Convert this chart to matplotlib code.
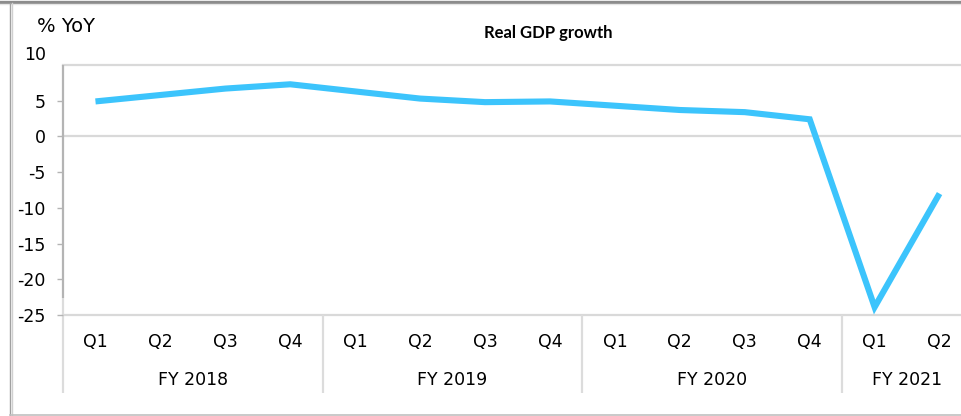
import matplotlib
matplotlib.use("Agg")
import matplotlib.pyplot as plt
from matplotlib.lines import Line2D
from matplotlib.transforms import ScaledTranslation

plt.rcParams["font.family"] = ["DejaVu Sans"]

# ---- data ----
fiscal_years = ["FY 2018", "FY 2019", "FY 2020", "FY 2021"]
quarters_per_year = [4, 4, 4, 2]
quarter_labels = ["Q1", "Q2", "Q3", "Q4", "Q1", "Q2", "Q3", "Q4",
                  "Q1", "Q2", "Q3", "Q4", "Q1", "Q2"]
gdp_growth = [4.9, 5.8, 6.7, 7.3, 6.3, 5.3, 4.8, 4.9,
              4.3, 3.7, 3.4, 2.4, -23.9, -8.0]
y_ticks = [10, 5, 0, -5, -10, -15, -20, -25]

W, H = 962, 416
fig = plt.figure(figsize=(W / 100, H / 100), dpi=100)
fig.patch.set_facecolor("white")

def fx(px):
    return px / W

def fy(py):
    return 1 - py / H

# outer frame
fig.add_artist(Line2D([0, 1], [fy(1.5), fy(1.5)], color="#8c8c8c", lw=2.4))
fig.add_artist(Line2D([0, 1], [fy(4), fy(4)], color="#e6e6e6", lw=1.0))
fig.add_artist(Line2D([fx(10), fx(10)], [fy(3), fy(415)], color="#a0a0a0", lw=1.0))
fig.add_artist(Line2D([fx(11.5), fx(11.5)], [fy(3), fy(415)], color="#d0d0d0", lw=1.0))
fig.add_artist(Line2D([fx(10), 1], [fy(414.5), fy(414.5)], color="#c0c0c0", lw=1.2))

left, right, top, bottom = 63, 972, 65, 315
ax = fig.add_axes([fx(left), fy(bottom), fx(right - left), (bottom - top) / H])
ax.set_facecolor("white")

n = len(gdp_growth)
x = list(range(n))
ax.plot(x, gdp_growth, color="#3cc4fc", lw=4.4, solid_joinstyle="miter",
        solid_capstyle="butt", zorder=3)

ax.set_xlim(-0.5, n - 0.5)
ax.set_ylim(-25, 10)

for s in ["top", "right", "bottom", "left"]:
    ax.spines[s].set_visible(False)

# gridlines at 10 and 0, category axis at -25
for v in [10, 0, -25]:
    ax.axhline(v, color="#d9d9d9", lw=1.6, zorder=1, clip_on=False)

# left value axis line (darker top part, lighter bottom part)
ax.plot([-0.5, -0.5], [10, -22.6], color="#b4b4b4", lw=1.6,
        clip_on=False, zorder=2, solid_capstyle="butt")

ax.set_yticks(y_ticks)
ax.set_yticklabels([str(v) for v in y_ticks])
ax.tick_params(axis="y", length=4, width=1, color="#b4b4b4", pad=8.5,
               labelsize=12.5, labelcolor="#000000")
ax.set_xticks([])

# quarter labels and year group labels
trans = ax.get_xaxis_transform()
for i, q in enumerate(quarter_labels):
    ax.text(i, -27 / (bottom - top), q, transform=trans, ha="center", va="center",
            fontsize=12.5, color="#000000")

start = 0
boundaries = [-0.5]
for fy_label, cnt in zip(fiscal_years, quarters_per_year):
    center = start + (cnt - 1) / 2
    ax.text(center, -65 / (bottom - top), fy_label, transform=trans,
            ha="center", va="center", fontsize=12.5, color="#000000")
    start += cnt
    boundaries.append(start - 0.5)

for b in boundaries[:-1]:
    ax.plot([b, b], [0, -78 / (bottom - top)], transform=trans, color="#dcdcdc",
            lw=1.6, clip_on=False, zorder=1, solid_capstyle="butt")
ax.plot([-0.5, -0.5], [-22.6, -25], color="#dcdcdc", lw=1.6,
        clip_on=False, zorder=1, solid_capstyle="butt")

# axis unit label and title
fig.text(fx(37), fy(27), "% YoY", ha="left", va="center", fontsize=14,
         color="#000000")
fig.text(fx(548), fy(33), "Real GDP growth", ha="center", va="center",
         fontsize=12, fontweight="bold", family="Lato", color="#000000")

# the "10" label sits above its gridline in the reference
fig.canvas.draw()
top_tick = ax.yaxis.get_major_ticks()[0]
top_tick.label1.set_transform(top_tick.label1.get_transform() +
                              ScaledTranslation(0, 12 / 100, fig.dpi_scale_trans))
top_tick.tick1line.set_visible(False)

fig.savefig("out.png", dpi=100, facecolor="white")
